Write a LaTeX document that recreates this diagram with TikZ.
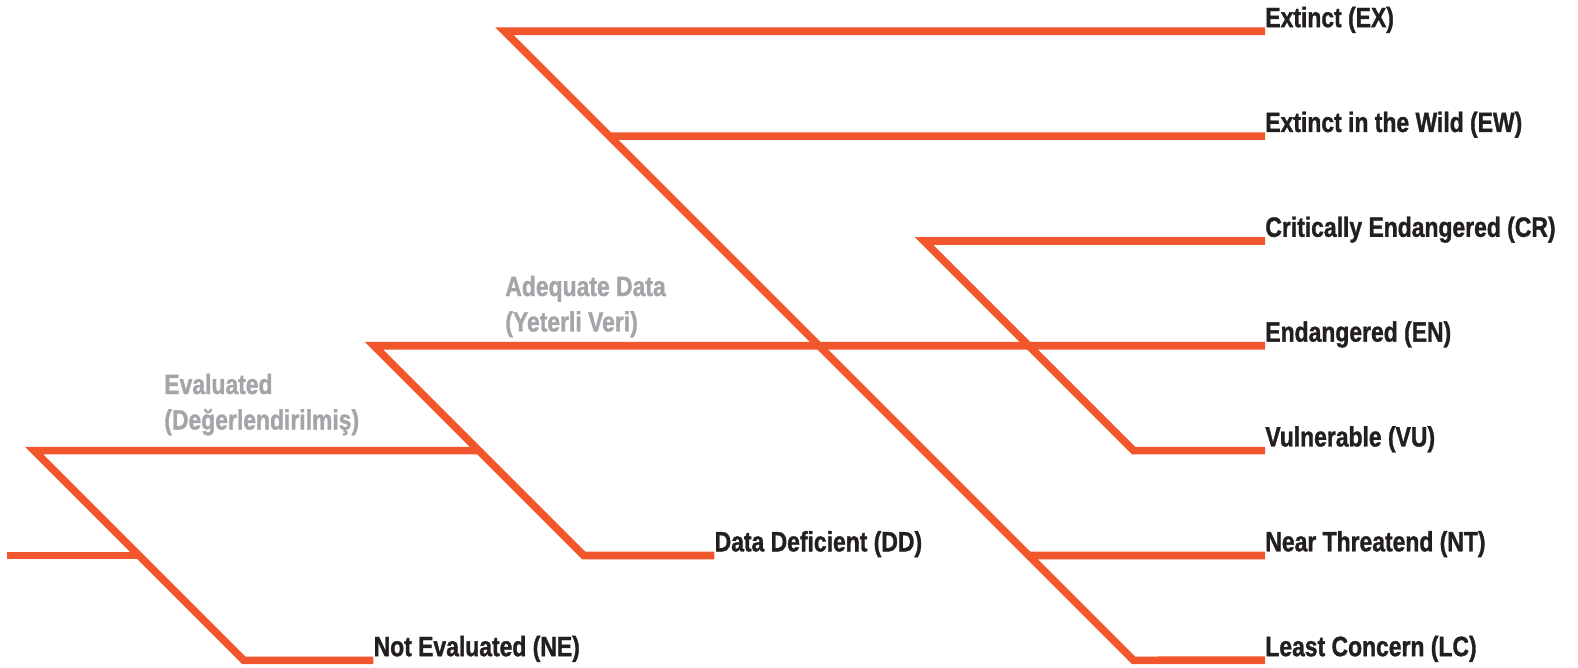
\documentclass[tikz,border=0pt]{standalone}
\usepackage{fontspec}
\newfontfamily\condfont{Liberation Sans}[FakeStretch=0.82,FakeBold=1.2]
\usetikzlibrary{positioning}
\definecolor{iucnorange}{RGB}{241,86,44}
\definecolor{labelgray}{RGB}{163,165,168}
\definecolor{labelblack}{RGB}{35,31,32}
\tikzset{
  branch/.style={draw=iucnorange,line width=0.152cm,miter limit=10},
  leaf/.style={inner sep=0pt,text depth=0pt,text=labelblack,font=\condfont\bfseries\fontsize{15.9}{19}\selectfont},
  group/.style={inner sep=0pt,align=left,text=labelgray,font=\condfont\bfseries\fontsize{15.9}{20.2}\selectfont},
}
\begin{document}
\begin{tikzpicture}[x=0.02cm,y=-0.02cm]
  \useasboundingbox (0,0) rectangle (1578,668);
  % branching points
  \coordinate (root) at (7.3,555.5);
  \coordinate (eval) at (34,450.6);
  \coordinate (eval-nd) at (138.8,555.5);
  \coordinate (ne-knee) at (243.7,660.3);
  \coordinate (ne-end) at (373.3,660.3);
  \coordinate (adeq) at (374,345.8);
  \coordinate (adeq-ev) at (478.8,450.6);
  \coordinate (dd-knee) at (583.7,555.5);
  \coordinate (dd-end) at (714.3,555.5);
  \coordinate (top) at (504.5,31.3);
  \coordinate (ew-fork) at (609.3,136.1);
  \coordinate (nt-fork) at (1028.7,555.5);
  \coordinate (lc-knee) at (1133.5,660.3);
  \coordinate (cr) at (924,241.0);
  \coordinate (vu-knee) at (1133.7,450.6);
  \foreach \name [count=\k from 0] in {ex,ew,cr,en,vu,nt,lc}
    \coordinate (\name-end) at (1265,31.3+104.83*\k);

  % branches
  \draw[branch] (ex-end) -- (top) -- (lc-knee) -- (lc-end);
  \draw[branch] (ew-fork) -- (ew-end);
  \draw[branch] (nt-fork) -- (nt-end);
  \draw[branch] (cr-end) -- (cr) -- (vu-knee) -- (vu-end);
  \draw[branch] (en-end) -- (adeq) -- (dd-knee) -- (dd-end);
  \draw[branch] (adeq-ev) -- (eval) -- (ne-knee) -- (ne-end);
  \draw[branch] (root) -- (eval-nd);

  % categories
  \node[leaf,above right=0.076cm and 0cm of ex-end] (ex) {Extinct (EX)};
  \node[leaf,above right=0.076cm and 0cm of ew-end] (ew) {Extinct in the Wild (EW)};
  \node[leaf,above right=0.076cm and 0cm of cr-end] (crl) {Critically Endangered (CR)};
  \node[leaf,above right=0.076cm and 0cm of en-end] (en) {Endangered (EN)};
  \node[leaf,above right=0.076cm and 0cm of vu-end] (vu) {Vulnerable (VU)};
  \node[leaf,above right=0.076cm and 0cm of nt-end] (nt) {Near Threatend (NT)};
  \node[leaf,above right=0.076cm and 0cm of lc-end] (lc) {Least Concern (LC)};
  \node[leaf,above right=0.076cm and 0cm of dd-end] (dd) {Data Deficient (DD)};
  \node[leaf,above right=0.076cm and 0cm of ne-end] (ne) {Not Evaluated (NE)};

  % groups (base = last line)
  \node[group,anchor=base west] (evaluated) at (164,429.5) {Evaluated\\(Değerlendirilmiş)};
  \node[group,anchor=base west] (adequate) at (505,331.5) {Adequate Data\\(Yeterli Veri)};
\end{tikzpicture}
\end{document}
